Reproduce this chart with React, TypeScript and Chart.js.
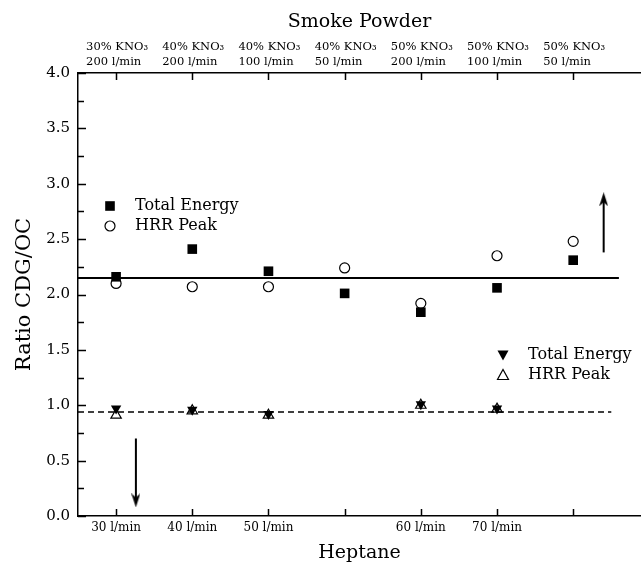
import React, { useEffect, useRef } from 'react';
import { Chart, registerables } from 'chart.js';

Chart.register(...registerables);

// ---------- data ----------
const categoryPositions = [1, 2, 3, 4, 5, 6, 7];
const smokePowderLabels = [
  ['30% KNO₃', '200 l/min'],
  ['40% KNO₃', '200 l/min'],
  ['40% KNO₃', '100 l/min'],
  ['40% KNO₃', '50 l/min'],
  ['50% KNO₃', '200 l/min'],
  ['50% KNO₃', '100 l/min'],
  ['50% KNO₃', '50 l/min'],
];
const heptaneLabels = ['30 l/min', '40 l/min', '50 l/min', '', '60 l/min', '70 l/min', ''];
const seriesNames = ['Total Energy', 'HRR Peak'];

const smokeTotalEnergy = [2.16, 2.41, 2.21, 2.01, 1.84, 2.06, 2.31];
const smokeHrrPeak = [2.1, 2.07, 2.07, 2.24, 1.92, 2.35, 2.48];

const heptanePositions = [1, 2, 3, 5, 6];
const heptaneTotalEnergy = [0.97, 0.96, 0.92, 1.01, 0.97];
const heptaneHrrPeak = [0.91, 0.95, 0.91, 1.0, 0.965];

const smokeMeanLine = { y: 2.15, from: 0.5, to: 7.6 };
const heptaneMeanLine = { y: 0.94, from: 0.5, to: 7.5 };
const upArrow = { x: 7.4, from: 2.38, to: 2.86 };
const downArrow = { x: 1.26, from: 0.7, to: 0.14 };

const yMin = 0;
const yMax = 4;
const yMinorStep = 0.25;
const xMin = 0.5;
const xMax = 7.89;

const SERIF = '"DejaVu Serif", "Liberation Serif", serif';

function makeArrowHead(): HTMLCanvasElement {
  const c = document.createElement('canvas');
  c.width = 9;
  c.height = 14;
  const g = c.getContext('2d')!;
  g.fillStyle = '#000';
  g.beginPath();
  g.moveTo(4.5, 0);
  g.lineTo(9, 14);
  g.lineTo(4.5, 10);
  g.lineTo(0, 14);
  g.closePath();
  g.fill();
  return c;
}

const zeroPadding = (s: any) => {
  s.paddingLeft = 0;
  s.paddingRight = 0;
  s.paddingTop = 0;
  s.paddingBottom = 0;
};

const innerTicksPlugin = {
  id: 'innerTicks',
  afterDraw(chart: any) {
    const { ctx, chartArea } = chart;
    const x = chart.scales.x;
    const y = chart.scales.y;
    ctx.save();
    ctx.strokeStyle = '#000';
    ctx.lineWidth = 1.5;
    ctx.beginPath();
    categoryPositions.forEach((v) => {
      const px = Math.round(x.getPixelForValue(v)) + 0.5;
      ctx.moveTo(px, chartArea.bottom);
      ctx.lineTo(px, chartArea.bottom - 7);
      ctx.moveTo(px, chartArea.top);
      ctx.lineTo(px, chartArea.top + 7);
    });
    for (let v = yMin; v <= yMax + 1e-9; v += yMinorStep) {
      const py = Math.round(y.getPixelForValue(v)) + 0.5;
      const major = Math.abs(v * 2 - Math.round(v * 2)) < 1e-6;
      ctx.moveTo(chartArea.left, py);
      ctx.lineTo(chartArea.left + (major ? 8 : 6), py);
    }
    ctx.stroke();
    ctx.restore();
  },
};

const legendPlugin = {
  id: 'panelLegends',
  afterDatasetsDraw(chart: any) {
    const { ctx } = chart;
    ctx.save();
    ctx.font = `16px ${SERIF}`;
    ctx.fillStyle = '#000';
    ctx.strokeStyle = '#000';
    ctx.lineWidth = 1.2;
    ctx.textBaseline = 'middle';
    ctx.textAlign = 'left';
    const drawMarker = (kind: string, cx: number, cy: number) => {
      ctx.beginPath();
      if (kind === 'square') {
        ctx.fillRect(cx - 4.8, cy - 4.8, 9.6, 9.6);
      } else if (kind === 'circle') {
        ctx.arc(cx, cy, 5, 0, Math.PI * 2);
        ctx.stroke();
      } else if (kind === 'down') {
        ctx.moveTo(cx - 5.5, cy - 4.5);
        ctx.lineTo(cx + 5.5, cy - 4.5);
        ctx.lineTo(cx, cy + 5.5);
        ctx.closePath();
        ctx.fill();
      } else if (kind === 'up') {
        ctx.moveTo(cx - 5.5, cy + 4.5);
        ctx.lineTo(cx + 5.5, cy + 4.5);
        ctx.lineTo(cx, cy - 5.5);
        ctx.closePath();
        ctx.stroke();
      }
    };
    const groups = [
      { x: 110, y: 206, kinds: ['square', 'circle'] },
      { x: 503, y: 355, kinds: ['down', 'up'] },
    ];
    groups.forEach((g) => {
      g.kinds.forEach((k, i) => {
        const cy = g.y + i * 20;
        drawMarker(k, g.x, cy);
        ctx.fillText(seriesNames[i], g.x + 25, cy);
      });
    });
    ctx.restore();
  },
};

export default function App() {
  const ref = useRef<HTMLCanvasElement | null>(null);

  useEffect(() => {
    document.body.style.margin = '0';
    const canvas = ref.current;
    if (!canvas) return;
    const arrowHead = makeArrowHead();

    const pts = (xs: number[], ys: number[]) => ys.map((v, i) => ({ x: xs[i], y: v }));

    const chart = new Chart(canvas, {
      type: 'scatter',
      data: {
        datasets: [
          {
            label: 'Smoke ' + seriesNames[1],
            data: pts(categoryPositions, smokeHrrPeak),
            pointStyle: 'circle',
            pointRadius: 5,
            backgroundColor: '#fff',
            borderColor: '#000',
            borderWidth: 1.2,
            order: 2,
          },
          {
            label: 'Smoke ' + seriesNames[0],
            data: pts(categoryPositions, smokeTotalEnergy),
            pointStyle: 'rect',
            pointRadius: 6.8,
            backgroundColor: '#000',
            borderColor: '#000',
            borderWidth: 0,
            order: 1,
          },
          {
            label: 'Heptane ' + seriesNames[0],
            data: pts(heptanePositions, heptaneTotalEnergy),
            pointStyle: 'triangle',
            rotation: 180,
            pointRadius: 6,
            backgroundColor: '#000',
            borderColor: '#000',
            borderWidth: 0,
            order: 2,
          },
          {
            label: 'Heptane ' + seriesNames[1],
            data: pts(heptanePositions, heptaneHrrPeak),
            pointStyle: 'triangle',
            pointRadius: 6,
            backgroundColor: 'rgba(0,0,0,0)',
            borderColor: '#000',
            borderWidth: 1.2,
            order: 1,
          },
          {
            label: 'smoke mean',
            data: [
              { x: smokeMeanLine.from, y: smokeMeanLine.y },
              { x: smokeMeanLine.to, y: smokeMeanLine.y },
            ],
            showLine: true,
            borderColor: '#000',
            borderWidth: 2,
            pointRadius: 0,
            order: 10,
          },
          {
            label: 'heptane mean',
            data: [
              { x: heptaneMeanLine.from, y: heptaneMeanLine.y },
              { x: heptaneMeanLine.to, y: heptaneMeanLine.y },
            ],
            showLine: true,
            borderColor: '#000',
            borderWidth: 1.5,
            borderDash: [6, 4],
            pointRadius: 0,
            order: 10,
          },
          {
            label: 'up arrow',
            data: [
              { x: upArrow.x, y: upArrow.from },
              { x: upArrow.x, y: upArrow.to },
            ],
            showLine: true,
            borderColor: '#000',
            borderWidth: 2,
            pointRadius: [0, 7],
            pointStyle: arrowHead,
            order: 10,
          },
          {
            label: 'down arrow',
            data: [
              { x: downArrow.x, y: downArrow.from },
              { x: downArrow.x, y: downArrow.to },
            ],
            showLine: true,
            borderColor: '#000',
            borderWidth: 2,
            pointRadius: [0, 7],
            pointStyle: arrowHead,
            rotation: 180,
            order: 10,
          },
        ] as any,
      },
      options: {
        responsive: false,
        animation: false,
        devicePixelRatio: 1,
        layout: { padding: 0, autoPadding: false },
        plugins: {
          legend: { display: false },
          tooltip: { enabled: false },
          title: { display: false },
        },
        scales: {
          x: {
            type: 'linear',
            position: 'bottom',
            min: xMin,
            max: xMax,
            afterBuildTicks: (s: any) => {
              s.ticks = categoryPositions.map((v) => ({ value: v }));
            },
            afterFit: (s: any) => {
              s.height = 50;
              zeroPadding(s);
            },
            grid: { display: false, drawTicks: false },
            border: { display: true, color: '#000', width: 1.5 },
            ticks: {
              autoSkip: false,
              maxRotation: 0,
              padding: 5,
              color: '#000',
              font: { family: SERIF, size: 12 },
              callback: (_v: any, i: number) => heptaneLabels[i],
            },
            title: {
              display: true,
              text: 'Heptane',
              color: '#000',
              font: { family: SERIF, size: 19 },
              padding: { top: 0, bottom: 2 },
            },
          },
          x2: {
            type: 'linear',
            position: 'top',
            min: xMin,
            max: xMax,
            afterBuildTicks: (s: any) => {
              s.ticks = categoryPositions.map((v) => ({ value: v }));
            },
            afterFit: (s: any) => {
              s.height = 73;
              zeroPadding(s);
            },
            grid: { display: false, drawTicks: false },
            border: { display: true, color: '#000', width: 1.5 },
            ticks: {
              autoSkip: false,
              maxRotation: 0,
              align: 'start',
              labelOffset: -30,
              padding: 4,
              color: '#000',
              font: { family: SERIF, size: 11.5, lineHeight: 1.3 },
              callback: (_v: any, i: number) => smokePowderLabels[i],
            },
            title: {
              display: true,
              text: 'Smoke Powder',
              color: '#000',
              font: { family: SERIF, size: 19 },
              padding: { top: 11, bottom: 0 },
            },
          },
          y: {
            type: 'linear',
            position: 'left',
            min: yMin,
            max: yMax,
            afterBuildTicks: (s: any) => {
              const t = [];
              for (let v = yMin; v <= yMax + 1e-9; v += 0.5) t.push({ value: v });
              s.ticks = t;
            },
            afterFit: (s: any) => {
              s.width = 78;
              zeroPadding(s);
            },
            grid: { display: false, drawTicks: false },
            border: { display: true, color: '#000', width: 1.5 },
            ticks: {
              autoSkip: false,
              padding: 8,
              color: '#000',
              font: { family: SERIF, size: 15 },
              callback: (v: any) => Number(v).toFixed(1),
            },
            title: {
              display: true,
              text: 'Ratio CDG/OC',
              color: '#000',
              font: { family: SERIF, size: 21 },
              padding: { top: 12, bottom: 0 },
            },
          },
        },
      } as any,
      plugins: [innerTicksPlugin, legendPlugin],
    });

    return () => chart.destroy();
  }, []);

  return <canvas ref={ref} width={641} height={566} style={{ display: 'block' }} />;
}
